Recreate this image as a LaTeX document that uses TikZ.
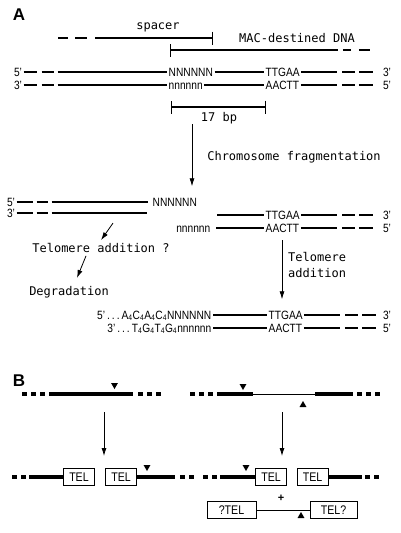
\documentclass[tikz,border=0pt]{standalone}
\usepackage{fontspec}
\setmainfont{Liberation Sans}
\newfontfamily\monofont{DejaVu Sans Mono}
\newfontfamily\narrowfont[FakeStretch=0.85]{Liberation Sans}
\usepackage{tikz}
\usetikzlibrary{arrows.meta, shapes.geometric, positioning}
\tikzset{
    seqnode/.style = {draw=none, fill=none, rectangle, inner sep=1.5pt, text height=8pt, text depth=0pt,
      font=\narrowfont\fontsize{12}{13}\selectfont},
    textnode/.style = {draw=none, fill=none, rectangle, inner sep=0pt, font=\monofont\fontsize{12}{16}\selectfont},
    panelnode/.style = {inner sep=0pt, font=\fontsize{17}{19}\selectfont\bfseries},
    telnode/.style = {draw, rectangle, line width=0.8pt, inner sep=0pt, minimum width=31pt, minimum height=17pt,
      text height=8.5pt, text depth=0pt, font=\narrowfont\fontsize{12.5}{13}\selectfont},
    cutnode/.style = {fill=black, regular polygon, regular polygon sides=3, inner sep=0pt, minimum size=8pt},
    cutdown/.style = {cutnode, shape border rotate=180},
    strand/.style = {line width=1.3pt},
    leftdash/.style = {dash pattern=on 13pt off 5pt on 12pt off 4pt on 400pt},
    rightdash/.style = {dash pattern=on 36pt off 5pt on 13pt off 4pt on 14pt off 20pt},
    chrom/.style = {line width=4.5pt},
    dots/.style = {line width=4.5pt, dash pattern=on 5pt off 4pt},
    thinline/.style = {line width=0.8pt},
    connect/.style = {black, line width=0.8pt, -{Latex[length=8pt,width=5pt]}},
    bar/.style = {line width=1.3pt, {Bar[width=13pt]}-{Bar[width=13pt]}}
}

\begin{document}
\begin{tikzpicture}[x=1pt, y=-1pt]
    \useasboundingbox (0,0) rectangle (400,533);

    % panel A
    \node [name = A, panelnode] at (19,15) {A};
    \coordinate (sp0) at (58,38);
    \coordinate (sp1) at (213,38);
    \draw [strand, -{Bar[width=13pt]}, dash pattern=on 10pt off 7pt on 12pt off 8pt on 300pt] (sp0) -- (sp1);
    \node [name = spacer, textnode] at (158,27) {spacer};
    \coordinate (mac0) at (170,50);
    \coordinate (mac1) at (370,50);
    \draw [strand, {Bar[width=13pt]}-, dash pattern=on 167pt off 5pt on 8pt off 8pt on 12pt off 30pt] (mac0) -- (mac1);
    \node [name = MAC, textnode] at (297,38) {MAC-destined DNA};

    \node [name = P5, seqnode] at (18,72) {5’};
    \node [name = NA, seqnode, anchor=west] at (167,72) {NNNNNN};
    \node [name = TA, seqnode, anchor=west] at (264,72) {TTGAA};
    \node [name = Q3, seqnode] at (387,72) {3’};
    \draw [strand, leftdash] (P5) -- (NA);
    \draw [strand] (NA) -- (TA);
    \draw [strand, rightdash] (TA) -- (Q3);

    \node [name = P3, seqnode] at (18,85) {3’};
    \node [name = na, seqnode, anchor=west] at (167,85) {nnnnnn};
    \node [name = AA, seqnode, anchor=west] at (264,85) {AACTT};
    \node [name = Q5, seqnode] at (387,85) {5’};
    \draw [strand, leftdash] (P3) -- (na);
    \draw [strand] (na) -- (AA);
    \draw [strand, rightdash] (AA) -- (Q5);

    \coordinate (bp0) at (171,107);
    \coordinate (bp1) at (266,107);
    \draw [bar] (bp0) -- (bp1);
    \node [name = bp, textnode] at (219,118) {17 bp};
    \node [name = Frag, textnode] at (294,157) {Chromosome fragmentation};

    % left fragment
    \node [name = LP5, seqnode] at (11,202) {5’};
    \node [name = NL, seqnode, anchor=west] at (151,202) {NNNNNN};
    \draw [strand, shorten >=3pt, dash pattern=on 16pt off 4pt on 11pt off 4pt on 300pt] (LP5) -- (NL);
    \node [name = LP3, seqnode] at (11,213) {3’};
    \coordinate (le3) at (147,213);
    \draw [strand, dash pattern=on 16pt off 4pt on 11pt off 4pt on 300pt] (LP3) -- (le3);

    \coordinate (frag) at (192,124);
    \draw [connect] (frag) -- ([yshift=10pt]NL.north -| frag);

    % right fragment
    \coordinate (rs5) at (217,215);
    \node [name = TR, seqnode, anchor=west] at (264,215) {TTGAA};
    \node [name = RQ3, seqnode] at (387,215) {3’};
    \draw [strand] (rs5) -- (TR);
    \draw [strand, rightdash] (TR) -- (RQ3);
    \node [name = nR, seqnode, anchor=east] at (212,228) {nnnnnn};
    \node [name = AR, seqnode, anchor=west] at (264,228) {AACTT};
    \node [name = RQ5, seqnode] at (387,228) {5’};
    \draw [strand, shorten <=4pt] (nR) -- (AR);
    \draw [strand, rightdash] (AR) -- (RQ5);

    \node [name = TelQ, textnode] at (101,248) {Telomere addition ?};
    \node [name = Deg, textnode] at (69,292) {Degradation};
    \draw [connect] ([xshift=12pt, yshift=20pt]TelQ.north) -- ([yshift=3pt]TelQ.north);
    \draw [connect] ([xshift=-15pt, yshift=-3pt]TelQ.south) -- ([xshift=8pt, yshift=8pt]Deg.north);

    % telomere added
    \node [name = FP5, seqnode, anchor=east] at (213,315)
        {5’\,.\,.\,.\,A\textsubscript{4}C\textsubscript{4}A\textsubscript{4}C\textsubscript{4}NNNNNN};
    \node [name = TF, seqnode, anchor=west] at (267,315) {TTGAA};
    \node [name = FQ3, seqnode] at (387,315) {3’};
    \draw [strand] (FP5) -- (TF);
    \draw [strand, rightdash] (TF) -- (FQ3);
    \node [name = FP3, seqnode, anchor=east] at (213,328)
        {3’\,.\,.\,.\,T\textsubscript{4}G\textsubscript{4}T\textsubscript{4}G\textsubscript{4}nnnnnn};
    \node [name = AF, seqnode, anchor=west] at (267,328) {AACTT};
    \node [name = FQ5, seqnode] at (387,328) {5’};
    \draw [strand] (FP3) -- (AF);
    \draw [strand, rightdash] (AF) -- (FQ5);

    \coordinate (ta0) at (282,240);
    \draw [connect] (ta0) -- ([yshift=10pt]TF.north -| ta0);
    \node [name = TelA, textnode, anchor=west, align=left] at (288,265) {Telomere\\addition};

    % panel B
    \node [name = B, panelnode] at (19,381) {B};

    \draw [dots] (22,394) -- (46,394);
    \draw [chrom] (49,394) -- (133,394);
    \draw [dots] (138,394) -- (162,394);
    \node [name = cutA, cutdown] at (114.5,385) {};

    \draw [dots] (190,394) -- (214,394);
    \draw [chrom] (217,394) -- (253,394);
    \draw [thinline] (253,394) -- (315,394);
    \draw [chrom] (315,394) -- (353,394);
    \draw [dots] (357,394) -- (381,394);
    \node [name = cutB, cutdown] at (243,386) {};
    \node [name = cutC, cutnode] at (303,405) {};

    \coordinate (bl0) at (104,412);
    \coordinate (bl1) at (104,456);
    \draw [connect] (bl0) -- (bl1);
    \coordinate (br0) at (282,412);
    \coordinate (br1) at (282,456);
    \draw [connect] (br0) -- (br1);

    \node [name = tel1, telnode] at (79,477) {TEL};
    \node [name = tel2, telnode] at (121,477) {TEL};
    \draw [dots] (12,477) -- (26,477);
    \draw [chrom] (29,477) -- (tel1);
    \draw [chrom] (tel2) -- (175,477);
    \draw [dots] (180,477) -- (194,477);
    \node [name = cutD, cutdown] at (147,467) {};

    \node [name = tel3, telnode] at (271,477) {TEL};
    \node [name = tel4, telnode] at (312.5,477) {TEL};
    \draw [dots] (203,477) -- (217,477);
    \draw [chrom] (220,477) -- (tel3);
    \draw [chrom] (tel4) -- (362,477);
    \draw [dots] (365,477) -- (379,477);
    \node [name = cutE, cutdown] at (246,467) {};

    \node [name = plus, seqnode, font=\bfseries\fontsize{11}{12}\selectfont] at (281,497) {+};
    \node [name = qtel, telnode, minimum width=49pt] at (231.5,510) {?TEL};
    \node [name = telq, telnode, minimum width=47pt] at (333.5,510) {TEL?};
    \draw [thinline] (qtel) -- (telq);
    \node [name = cutF, cutnode] at (301,516) {};
\end{tikzpicture}
\end{document}
